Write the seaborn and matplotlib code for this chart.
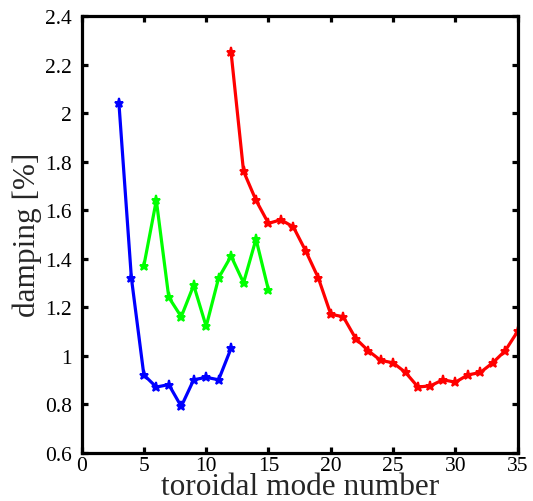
import numpy as np
import pandas as pd
import matplotlib
matplotlib.use('Agg')
import matplotlib.pyplot as plt
import seaborn as sns

# Damping vs toroidal mode number, three branches
n_blue = [3, 4, 5, 6, 7, 8, 9, 10, 11, 12]
d_blue = [2.04, 1.32, 0.92, 0.87, 0.88, 0.79, 0.90, 0.91, 0.90, 1.03]

n_green = [5, 6, 7, 8, 9, 10, 11, 12, 13, 14, 15]
d_green = [1.37, 1.64, 1.24, 1.16, 1.29, 1.12, 1.32, 1.41, 1.30, 1.48, 1.27]

n_red = list(range(12, 36))
d_red = [2.25, 1.76, 1.64, 1.545, 1.56, 1.53, 1.43, 1.32, 1.17, 1.16, 1.07, 1.02,
         0.98, 0.97, 0.93, 0.87, 0.875, 0.90, 0.89, 0.92, 0.93, 0.97, 1.02, 1.10]

xticks = [0, 5, 10, 15, 20, 25, 30, 35]
yticks = [0.6, 0.8, 1, 1.2, 1.4, 1.6, 1.8, 2, 2.2, 2.4]
ytick_labels = ['0.6', '0.8', '1', '1.2', '1.4', '1.6', '1.8', '2', '2.2', '2.4']

sns.set_style('ticks')
plt.rcParams['font.family'] = ['Liberation Serif', 'DejaVu Serif']

fig = plt.figure(figsize=(5.33, 5.02), dpi=100)
ax = fig.add_axes([0.153, 0.0966, 0.9713 - 0.153, 0.966 - 0.0966])

series = [
    (n_blue, d_blue, '#0000ff'),
    (n_green, d_green, '#00ff00'),
    (n_red, d_red, '#ff0000'),
]
for xs, ys, col in series:
    sns.lineplot(x=xs, y=ys, ax=ax, color=col, linewidth=2.3,
                 marker='*', markersize=6.5, markeredgecolor=col,
                 markerfacecolor=col, markeredgewidth=1.4)

ax.set_xlim(0, 35)
ax.set_ylim(0.6, 2.4)
ax.set_xticks(xticks)
ax.set_yticks(yticks)
ax.set_yticklabels(ytick_labels)

for side in ['top', 'right', 'bottom', 'left']:
    ax.spines[side].set_visible(True)
    ax.spines[side].set_linewidth(2.3)
    ax.spines[side].set_color('black')

ax.tick_params(direction='in', length=4, width=2.3, labelsize=15.5,
               top=True, right=True, colors='black')
ax.tick_params(axis='x', pad=2.5)
ax.tick_params(axis='y', pad=7)

# labels sit tight against the tick labels, as in the original
ax.set_xlabel('toroidal mode number', fontsize=22.5)
ax.xaxis.set_label_coords(0.5, -0.096)
ax.xaxis.label.set_va('baseline')
ax.set_ylabel('damping [%]', fontsize=22.5)
ax.yaxis.set_label_coords(-0.091, 0.5)

fig.savefig('out.png', dpi=100)
